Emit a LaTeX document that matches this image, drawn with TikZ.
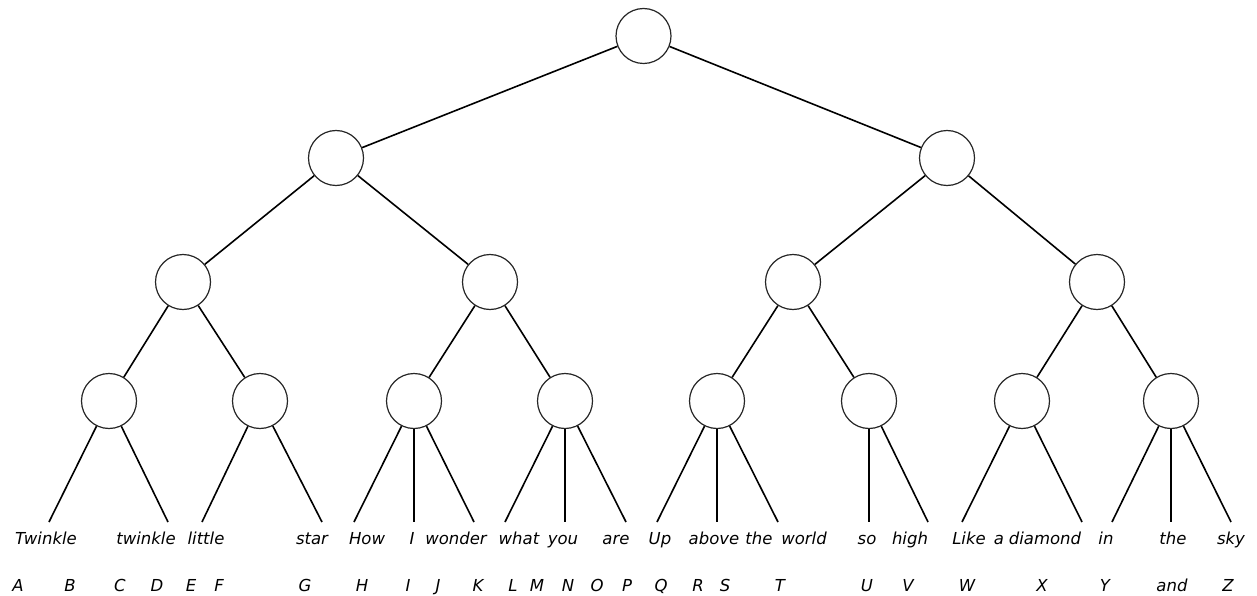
\documentclass[tikz,border=0pt]{standalone}
\usepackage{fontspec}
\setmainfont{DejaVu Sans}
\begin{document}
\begin{tikzpicture}[x=1pt,y=-1pt,
  circ/.style={circle,draw=black!85,line width=1.2pt,minimum size=55pt,inner sep=0pt,fill=white},
  edge/.style={draw=black,line width=1.6pt},
  word/.style={anchor=base,inner sep=0pt,font=\fontsize{16.5}{18}\selectfont\itshape},
  letter/.style={anchor=base,inner sep=0pt,font=\fontsize{16.5}{18}\selectfont\itshape}]
\useasboundingbox (0,0) rectangle (1257,596);
% circles
\node[circ] (r) at (643.5,36) {};
\node[circ] (a) at (336,158) {};
\node[circ] (b) at (947,158) {};
\node[circ] (aa) at (183,282) {};
\node[circ] (ab) at (490,282) {};
\node[circ] (ba) at (793,282) {};
\node[circ] (bb) at (1097,282) {};
\node[circ] (n1) at (109,401) {};
\node[circ] (n2) at (260,401) {};
\node[circ] (n3) at (414,401) {};
\node[circ] (n4) at (565,401) {};
\node[circ] (n5) at (717,401) {};
\node[circ] (n6) at (869,401) {};
\node[circ] (n7) at (1022,401) {};
\node[circ] (n8) at (1171,401) {};
% internal edges
\draw[edge] (r) -- (a);
\draw[edge] (r) -- (b);
\draw[edge] (a) -- (aa);
\draw[edge] (a) -- (ab);
\draw[edge] (b) -- (ba);
\draw[edge] (b) -- (bb);
\draw[edge] (aa) -- (n1);
\draw[edge] (aa) -- (n2);
\draw[edge] (ab) -- (n3);
\draw[edge] (ab) -- (n4);
\draw[edge] (ba) -- (n5);
\draw[edge] (ba) -- (n6);
\draw[edge] (bb) -- (n7);
\draw[edge] (bb) -- (n8);
% leaf ends
\coordinate (l1) at (49,522);
\coordinate (l2) at (168,522);
\coordinate (l3) at (202,522);
\coordinate (l4) at (322,522);
\coordinate (l5) at (354,522);
\coordinate (l6) at (414,522);
\coordinate (l7) at (474,522);
\coordinate (l8) at (505,522);
\coordinate (l9) at (565,522);
\coordinate (l10) at (626,522);
\coordinate (l11) at (657,522);
\coordinate (l12) at (717,522);
\coordinate (l13) at (778,522);
\coordinate (l14) at (869,522);
\coordinate (l15) at (928,522);
\coordinate (l16) at (962,522);
\coordinate (l17) at (1082,522);
\coordinate (l18) at (1112,522);
\coordinate (l19) at (1171,522);
\coordinate (l20) at (1231,522);
\draw[edge] (n1) -- (l1);
\draw[edge] (n1) -- (l2);
\draw[edge] (n2) -- (l3);
\draw[edge] (n2) -- (l4);
\draw[edge] (n3) -- (l5);
\draw[edge] (n3) -- (l6);
\draw[edge] (n3) -- (l7);
\draw[edge] (n4) -- (l8);
\draw[edge] (n4) -- (l9);
\draw[edge] (n4) -- (l10);
\draw[edge] (n5) -- (l11);
\draw[edge] (n5) -- (l12);
\draw[edge] (n5) -- (l13);
\draw[edge] (n6) -- (l14);
\draw[edge] (n6) -- (l15);
\draw[edge] (n7) -- (l16);
\draw[edge] (n7) -- (l17);
\draw[edge] (n8) -- (l18);
\draw[edge] (n8) -- (l19);
\draw[edge] (n8) -- (l20);
% words
\node[word] (w1) at (46,544) {Twinkle};
\node[word] (w2) at (146,544) {twinkle};
\node[word] (w3) at (206,544) {little};
\node[word] (w4) at (312,544) {star};
\node[word] (w5) at (367,544) {How};
\node[word] (w6) at (412,544) {I};
\node[word] (w7) at (456,544) {wonder};
\node[word] (w8) at (519,544) {what};
\node[word] (w9) at (563,544) {you};
\node[word] (w10) at (616,544) {are};
\node[word] (w11) at (660,544) {Up};
\node[word] (w12) at (714,544) {above};
\node[word] (w13) at (759,544) {the};
\node[word] (w14) at (804,544) {world};
\node[word] (w15) at (867,544) {so};
\node[word] (w16) at (910,544) {high};
\node[word] (w17) at (969,544) {Like};
\node[word] (w18) at (999,544) {a};
\node[word] (w19) at (1045,544) {diamond};
\node[word] (w20) at (1106,544) {in};
\node[word] (w21) at (1173,544) {the};
\node[word] (w22) at (1231,544) {sky};
% letters
\node[letter] (cA) at (18,591) {A};
\node[letter] (cB) at (70,591) {B};
\node[letter] (cC) at (120,591) {C};
\node[letter] (cD) at (157,591) {D};
\node[letter] (cE) at (191,591) {E};
\node[letter] (cF) at (219,591) {F};
\node[letter] (cG) at (305,591) {G};
\node[letter] (cH) at (362,591) {H};
\node[letter] (cI) at (408,591) {I};
\node[letter] (cJ) at (438,591) {J};
\node[letter] (cK) at (478,591) {K};
\node[letter] (cL) at (513,591) {L};
\node[letter] (cM) at (537,591) {M};
\node[letter] (cN) at (568,591) {N};
\node[letter] (cO) at (597,591) {O};
\node[letter] (cP) at (627,591) {P};
\node[letter] (cQ) at (661,591) {Q};
\node[letter] (cR) at (698,591) {R};
\node[letter] (cS) at (725,591) {S};
\node[letter] (cT) at (780,591) {T};
\node[letter] (cU) at (867,591) {U};
\node[letter] (cV) at (908,591) {V};
\node[letter] (cW) at (967,591) {W};
\node[letter] (cX) at (1042,591) {X};
\node[letter] (cY) at (1105,591) {Y};
\node[letter] (cand) at (1172,591) {and};
\node[letter] (cZ) at (1228,591) {Z};
\end{tikzpicture}
\end{document}
